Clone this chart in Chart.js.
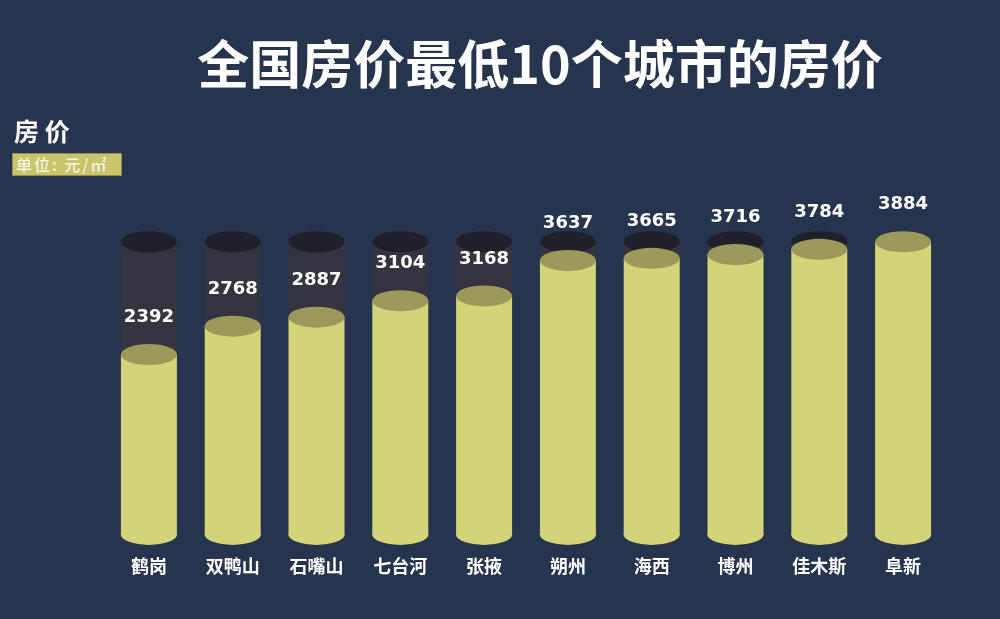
<!DOCTYPE html>
<html><head><meta charset="utf-8">
<script src="https://cdn.jsdelivr.net/npm/chart.js@4"></script>
<style>html,body{margin:0;padding:0;background:#27344e;}#wrap{width:1000px;height:619px;}</style>
</head><body><div id="wrap"><canvas id="c" width="1000" height="619"></canvas></div>
<script>
const cities = ['鹤岗','双鸭山','石嘴山','七台河','张掖','朔州','海西','博州','佳木斯','阜新'];
const prices = [2392,2768,2887,3104,3168,3637,3665,3716,3784,3884];
const capacity = [3884,3884,3884,3884,3884,3884,3884,3884,3884,3884];
const titleText = '全国房价最低10个城市的房价';
const axisTitle = '房 价';
const unitText = '单位: 元/㎡';

const CJK = '"Noto Sans CJK SC", "Noto Sans", sans-serif';

const cylinderPlugin = {
  id: 'cyl',
  beforeDraw(chart) {
    const ctx = chart.ctx;
    ctx.save();
    ctx.fillStyle = '#27344e';
    ctx.fillRect(0, 0, chart.width, chart.height);
    ctx.restore();
  },
  afterDatasetDraw(chart, args) {
    const ctx = chart.ctx;
    const meta = args.meta;
    const idx = args.index;
    ctx.save();
    meta.data.forEach((bar) => {
      const p = bar.getProps(['x','y','base','width'], true);
      const rx = p.width / 2, ry = 10.5;
      if (idx === 1) {
        ctx.fillStyle = '#1f2029';
        ctx.beginPath(); ctx.ellipse(p.x, p.y, rx, ry, 0, 0, Math.PI*2); ctx.fill();
      } else {
        ctx.fillStyle = '#d3d37a';
        ctx.beginPath(); ctx.ellipse(p.x, p.base - 1, rx, ry, 0, 0, Math.PI); ctx.fill();
        ctx.fillRect(p.x - rx, p.base - 2, rx * 2, 2);
        ctx.fillStyle = '#9b9a5a';
        ctx.beginPath(); ctx.ellipse(p.x, p.y, rx, ry, 0, 0, Math.PI*2); ctx.fill();
      }
    });
    if (idx === 0) {
      ctx.fillStyle = '#ffffff';
      ctx.font = 'bold 18px "DejaVu Sans", sans-serif';
      ctx.textAlign = 'center';
      ctx.textBaseline = 'middle';
      meta.data.forEach((bar, i) => {
        const p = bar.getProps(['x','y'], true);
        ctx.fillText(String(prices[i]), p.x, p.y - 37);
      });
    }
    ctx.restore();
  },
  afterDraw(chart) {
    const ctx = chart.ctx;
    ctx.save();
    ctx.fillStyle = '#ffffff';
    ctx.textBaseline = 'middle';
    ctx.textAlign = 'center';
    ctx.font = 'bold 52px ' + CJK;
    ctx.fillText(titleText, 540, 64);
    ctx.textAlign = 'left';
    ctx.font = 'bold 25px ' + CJK;
    ctx.fillText(axisTitle, 14, 131);
    ctx.fillStyle = '#c9c56a';
    ctx.fillRect(12, 153, 110, 23);
    ctx.strokeStyle = '#8f8c4c';
    ctx.lineWidth = 1;
    ctx.strokeRect(12.5, 153.5, 109, 22);
    ctx.fillStyle = '#f4f4ea';
    ctx.font = '500 16px ' + CJK;
    ctx.letterSpacing = '2px';
    ctx.fillText(unitText, 16, 165);
    ctx.restore();
  }
};

new Chart(document.getElementById('c'), {
  type: 'bar',
  data: {
    labels: cities,
    datasets: [
      { label: '房价', data: prices, backgroundColor: '#d3d37a', order: 1, grouped: false,
        barPercentage: 0.668, categoryPercentage: 1.0, borderWidth: 0 },
      { label: '容量', data: capacity, backgroundColor: '#33343f', order: 2, grouped: false,
        barPercentage: 0.668, categoryPercentage: 1.0, borderWidth: 0 }
    ]
  },
  options: {
    responsive: false,
    animation: false,
    devicePixelRatio: 1,
    layout: { padding: { top: 233, left: 107, right: 55, bottom: 22 } },
    plugins: { legend: { display: false }, tooltip: { enabled: false }, title: { display: false } },
    scales: {
      x: {
        grid: { display: false, drawTicks: false },
        border: { display: false },
        ticks: { color: '#ffffff', padding: 20, font: { family: CJK, size: 18, weight: 'bold' } }
      },
      y: { display: false, min: 0, max: 4000 }
    }
  },
  plugins: [cylinderPlugin]
});
</script>
</body></html>
